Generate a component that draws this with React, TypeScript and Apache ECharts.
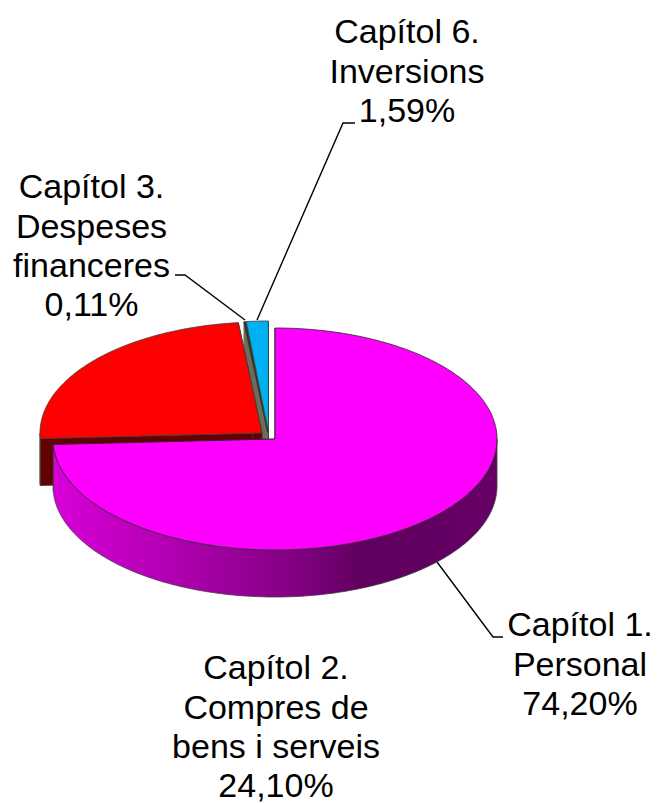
import React, { useEffect, useRef } from "react";
import * as echarts from "echarts";

const categories = ["Capítol 1.\nPersonal", "Capítol 2.\nCompres de\nbens i serveis", "Capítol 3.\nDespeses\nfinanceres", "Capítol 6.\nInversions"];
const shares = [74.2, 24.1, 0.11, 1.59];
const topColors = ["#ff00ff", "#ff0000", "#303028", "#00b0f0"];
const faceColors = ["#990099", "#640000", "#6c6c58", "#005a80"];

// Layout of the drawing, kept apart from the data
const RX = 222;
const RY = 111;
const DEPTH = 47;
const centres = [[275, 439], [262, 433], [267.6, 432.2], [268.4, 432]];
const paintRank = [4, 3, 2, 1];
const labelAnchors = [[580, 604.5], [276, 647.5], [91.5, 166.5], [407, 11.5]];
const leaders = [
  [[437, 562], [493, 637], [503, 637]],
  null,
  [[245, 320], [185, 275], [175, 275]],
  [[257, 320], [343, 123], [355, 123]],
];

const wallGradient = {
  type: "linear", x: 53, y: 0, x2: 497, y2: 0, global: true,
  colorStops: [
    { offset: 0, color: "#d800d8" },
    { offset: 0.25, color: "#b400b4" },
    { offset: 0.55, color: "#820082" },
    { offset: 0.7, color: "#5f005f" },
    { offset: 1, color: "#660066" },
  ],
};

const rad = (d: number) => (d * Math.PI) / 180;
const total = shares.reduce((a, b) => a + b, 0);

function rim(c: number[], deg: number, drop = 0): number[] {
  return [c[0] + RX * Math.sin(rad(deg)), c[1] - RY * Math.cos(rad(deg)) + drop];
}
function arc(c: number[], from: number, to: number, drop = 0): number[][] {
  const n = Math.max(2, Math.ceil(Math.abs(to - from) * 2));
  const pts: number[][] = [];
  for (let i = 0; i <= n; i++) pts.push(rim(c, from + ((to - from) * i) / n, drop));
  return pts;
}
const pct = (v: number) => v.toFixed(2).replace(".", ",") + "%";

function renderItem(params: any, api: any) {
  const i = params.dataIndex;
  const value = api.value(0);
  const before = shares.slice(0, i).reduce((a, b) => a + b, 0);
  const a0 = (before / total) * 360;
  const a1 = a0 + (value / total) * 360;
  const c = centres[i];
  const z = paintRank[i] * 10;
  const stroke = "#3c3c3c";
  const children: any[] = [];

  // cut faces
  [a0, a1].forEach((a) => {
    const r = rim(c, a);
    children.push({
      type: "polygon",
      z2: z,
      shape: { points: [c, r, [r[0], r[1] + DEPTH], [c[0], c[1] + DEPTH]] },
      style: { fill: faceColors[i], stroke: i === 2 ? faceColors[i] : stroke, lineWidth: 0.8 },
    });
  });

  // outer wall on the front half
  const w0 = Math.max(a0, 90);
  const w1 = Math.min(a1, 270);
  if (w1 > w0) {
    const upper = arc(c, w0, w1);
    const lower = arc(c, w1, w0, DEPTH);
    children.push({
      type: "polygon",
      z2: z + 1,
      shape: { points: upper.concat(lower) },
      style: { fill: i === 0 ? wallGradient : faceColors[i], stroke, lineWidth: 0.8 },
    });
  }

  // top
  children.push({
    type: "polygon",
    z2: z + 2,
    shape: { points: [c].concat(arc(c, a0, a1)) },
    style: { fill: topColors[i], stroke: i === 2 ? topColors[i] : i === 0 ? "#222222" : stroke, lineWidth: 0.8 },
  });

  // leader and label
  if (leaders[i]) {
    children.push({
      type: "polyline",
      z2: 100,
      shape: { points: leaders[i] },
      style: { fill: "none", stroke: "#000000", lineWidth: 1.4 },
    });
  }
  children.push({
    type: "text",
    z2: 101,
    style: {
      x: labelAnchors[i][0],
      y: labelAnchors[i][1],
      text: categories[i] + "\n" + pct(value),
      fill: "#000000",
      font: "34px 'Liberation Sans', Arial, sans-serif",
      lineHeight: 39.4,
      align: "center",
      verticalAlign: "top",
    },
  });

  return { type: "group", children };
}

export default function App() {
  const ref = useRef<HTMLDivElement>(null);
  useEffect(() => {
    const chart = echarts.init(ref.current!, null, { renderer: "svg" });
    chart.setOption({
      animation: false,
      backgroundColor: "#ffffff",
      series: [
        {
          type: "custom",
          coordinateSystem: "none",
          silent: true,
          renderItem,
          data: shares.map((v, i) => ({ name: categories[i], value: [v] })),
        },
      ],
    });
    return () => chart.dispose();
  }, []);
  return <div ref={ref} style={{ position: "absolute", left: 0, top: 0, width: 657, height: 803 }} />;
}
